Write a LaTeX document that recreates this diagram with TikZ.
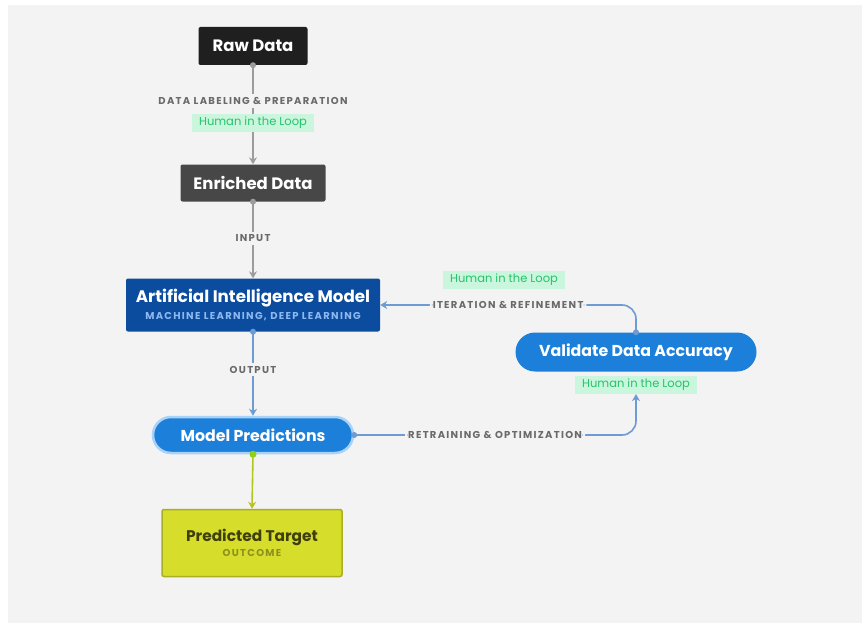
\documentclass[tikz,border=0pt]{standalone}
\usepackage{fontspec}
\setmainfont{Poppins}
\usetikzlibrary{arrows.meta,shapes.misc}
\definecolor{bg}{HTML}{F3F3F3}
\definecolor{rawc}{HTML}{1F1F1F}
\definecolor{enrc}{HTML}{474747}
\definecolor{aic}{HTML}{0C4C9E}
\definecolor{aisub}{HTML}{8DB8F0}
\definecolor{pillc}{HTML}{1C7FDA}
\definecolor{glow}{HTML}{A9D2F7}
\definecolor{ptc}{HTML}{D7DD2B}
\definecolor{ptb}{HTML}{A9AE22}
\definecolor{pttext}{HTML}{3E3F0B}
\definecolor{ptsub}{HTML}{8E901E}
\definecolor{lbl}{HTML}{6A6A6A}
\definecolor{hitlbg}{HTML}{CBF6DE}
\definecolor{hitltx}{HTML}{25C36B}
\definecolor{grayline}{HTML}{9C9C9C}
\definecolor{blueline}{HTML}{6F9BD3}
\definecolor{yline}{HTML}{B5C41E}
\newfontfamily\capsfont[LetterSpace=13]{Poppins}
\tikzset{
  box/.style={rectangle, rounded corners=2pt, text=white, inner sep=0pt,
    font=\bfseries\fontsize{16.5}{16.5}\selectfont},
  pill/.style={rounded rectangle, fill=pillc, text=white, inner sep=0pt,
    font=\bfseries\fontsize{15.8}{15.8}\selectfont},
  lbltext/.style={fill=bg, text=lbl, inner sep=3pt,
    font=\capsfont\bfseries\fontsize{10}{10}\selectfont},
  hitl/.style={fill=hitlbg, text=hitltx, inner xsep=7pt, inner ysep=3pt,
    font=\fontsize{11.5}{11.5}\selectfont},
  conn/.style={line width=1.6pt, -{Stealth[length=7pt,width=8pt]}},
}
\begin{document}
\begin{tikzpicture}[x=1pt,y=-1pt]
\useasboundingbox (0,0) rectangle (862,623);
\fill[white] (0,0) rectangle (862,623);
\fill[bg] (8,5) rectangle (862,623);

% main nodes
\node[box, fill=rawc, minimum width=109pt, minimum height=38pt] (raw) at (253,46) {Raw Data};
\node[box, fill=enrc, minimum width=145pt, minimum height=37pt] (enr) at (253,183) {Enriched Data};
\node[box, fill=aic, minimum width=254pt, minimum height=53pt, align=center,
  font=\bfseries\fontsize{16.7}{16.7}\selectfont] (ai) at (253,305)
  {Artificial Intelligence Model\\[1pt]{\color{aisub}\capsfont\fontsize{10}{10}\selectfont MACHINE LEARNING, DEEP LEARNING}};
\node[pill, draw=glow, line width=2.5pt, minimum width=200pt, minimum height=36pt] (mp) at (253,435) {Model Predictions};
\node[pill, minimum width=241pt, minimum height=39pt] (val) at (636,352) {Validate Data Accuracy};
\node[rectangle, rounded corners=2pt, fill=ptc, draw=ptb, line width=1.5pt, inner sep=0pt,
  minimum width=180pt, minimum height=67pt, align=center, text=pttext,
  font=\bfseries\fontsize{15.4}{15.4}\selectfont] (pt) at (252,543)
  {Predicted Target\\[0pt]{\color{ptsub}\capsfont\fontsize{10}{10}\selectfont OUTCOME}};

\node[hitl] (h2) at (504,280) {Human in the Loop};
\node[hitl] (h3) at (636,385) {Human in the Loop};

% connectors
\draw[conn, grayline] (raw.south) -- node[lbltext, pos=0.36] {DATA LABELING \& PREPARATION}
  node[hitl, pos=0.58] {Human in the Loop} (enr.north);
\draw[conn, grayline] (enr.south) -- node[lbltext, pos=0.48] {INPUT} (ai.north);
\draw[conn, blueline] (ai.south) -- node[lbltext, pos=0.45] {OUTPUT} (mp.north);
\draw[conn, yline] (mp.south) -- (pt.north);
\draw[conn, blueline, rounded corners=14pt] (val.north) |- node[lbltext, pos=0.75] {ITERATION \& REFINEMENT} (ai.east);
\draw[conn, blueline, rounded corners=14pt] (mp.east) -| node[lbltext, pos=0.25] {RETRAINING \& OPTIMIZATION} (h3.south);

% start dots
\fill[grayline] (raw.south) circle (3pt);
\fill[grayline] (enr.south) circle (3pt);
\fill[blueline] (ai.south) circle (3pt);
\fill[yline!80!green] (mp.south) circle (3.5pt);
\fill[blueline] (val.north) circle (3pt);
\fill[blueline] (mp.east) circle (3pt);
\end{tikzpicture}
\end{document}
